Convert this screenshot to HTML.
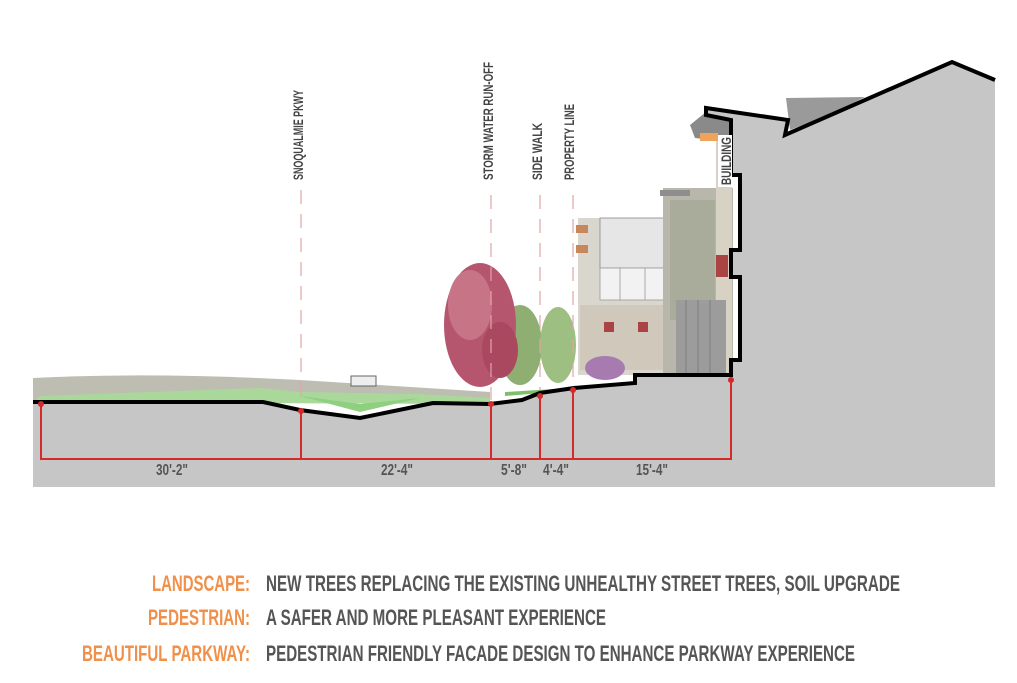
<!DOCTYPE html>
<html><head><meta charset="utf-8"><style>
html,body{margin:0;padding:0;background:#fff;}
svg{display:block;}
text{font-family:"Liberation Sans Narrow","Liberation Sans",sans-serif;font-weight:bold;}
</style></head><body>
<svg width="1017" height="683" viewBox="0 0 1017 683" xmlns="http://www.w3.org/2000/svg">
<!-- landscape strip -->
<path d="M33,378 Q150,372 300,380 L490,392 L490,404 L33,402 Z" fill="#bdbdb2"/>
<path d="M40,396 L260,388 L300,392 L420,394 L490,398 L490,404 L33,402 Z" fill="#a9d89a"/>
<path d="M300,396 L360,412 L420,398 L360,404 Z" fill="#8fcf80"/>
<!-- car -->
<rect x="351" y="376" width="25" height="10" fill="#eee" stroke="#666" stroke-width="1"/>
<!-- building facade -->
<rect x="578" y="218" width="100" height="157" fill="#d9d6ce"/>
<rect x="600" y="218" width="70" height="50" fill="#e6e6e6" stroke="#888" stroke-width="0.8"/>
<rect x="600" y="268" width="70" height="32" fill="#f2f2f2" stroke="#999" stroke-width="0.8"/>
<line x1="620" y1="268" x2="620" y2="300" stroke="#999" stroke-width="0.8"/>
<line x1="645" y1="268" x2="645" y2="300" stroke="#999" stroke-width="0.8"/>
<rect x="580" y="305" width="100" height="65" fill="#cfc8bb"/>
<rect x="576" y="225" width="12" height="8" fill="#c8875a"/>
<rect x="576" y="245" width="12" height="8" fill="#c8875a"/>
<rect x="663" y="188" width="70" height="187" fill="#b9b6ac"/>
<rect x="670" y="200" width="45" height="120" fill="#a9ac9a"/>
<rect x="660" y="190" width="30" height="6" fill="#8e8e8e"/>
<rect x="716" y="140" width="16" height="235" fill="#d8d2c4"/>
<rect x="676" y="300" width="50" height="75" fill="#9c9c9c"/>
<line x1="686" y1="300" x2="686" y2="375" stroke="#777" stroke-width="0.8"/>
<line x1="698" y1="300" x2="698" y2="375" stroke="#777" stroke-width="0.8"/>
<line x1="710" y1="300" x2="710" y2="375" stroke="#777" stroke-width="0.8"/>
<rect x="716" y="255" width="12" height="22" fill="#a44"/>
<rect x="638" y="322" width="10" height="10" fill="#a44"/>
<rect x="604" y="322" width="10" height="10" fill="#a44"/>
<path d="M690,125 L706,112 L740,118 L735,135 L712,140 L695,138 Z" fill="#8a8a8a"/>
<rect x="700" y="133" width="18" height="8" fill="#f0a35a"/>
<path d="M786,98 L865,97 L830,115 L790,130 Z" fill="#9a9a9a"/>
<!-- trees -->
<ellipse cx="520" cy="345" rx="22" ry="40" fill="#8fae72"/>
<ellipse cx="558" cy="345" rx="18" ry="38" fill="#9dbf82"/>
<ellipse cx="480" cy="325" rx="36" ry="62" fill="#b5566e"/>
<ellipse cx="470" cy="305" rx="22" ry="35" fill="#c77486"/>
<ellipse cx="500" cy="350" rx="18" ry="28" fill="#a9485f"/>
<ellipse cx="605" cy="368" rx="20" ry="12" fill="#a77bb0"/>
<path d="M505,392 L570,388 L630,382 L630,386 L505,396Z" fill="#7dbf6a"/>
<!-- gray ground/building section -->
<path d="M33,402 L263,402 L300,410 L360,418 L433,403 L490,404 L522,400 L540,393 L574,388 L635,383 L635,375 L731,375 L731,360 L740,360 L740,277 L731,277 L731,250 L740,250 L740,175 L731,175 L731,120 L706,115 L706,108 L788,120 L785,135 L952,62 L995,80 L995,487 L33,487 Z" fill="#c6c6c6"/>
<path d="M33,402 L263,402 L300,410 L360,418 L433,403 L490,404 L522,400 L540,393 L574,388 L635,383 L635,375 L731,375 L731,360 L740,360 L740,277 L731,277 L731,250 L740,250 L740,175 L731,175 L731,120 L706,115 L706,108 L788,120 L785,135 L952,62 L995,80" fill="none" stroke="#000" stroke-width="4" stroke-linejoin="miter"/>
<!-- dashed lines -->
<g stroke="#e3a3a8" stroke-width="1.2" stroke-dasharray="14,10" fill="none">
<line x1="301" y1="190" x2="301" y2="400"/>
<line x1="491" y1="195" x2="491" y2="400"/>
<line x1="540" y1="195" x2="540" y2="390"/>
<line x1="573" y1="195" x2="573" y2="385"/>
</g>
<!-- dims -->
<g stroke="#d42a2a" stroke-width="2" fill="none">
<polyline points="41,404 41,459 731,459 731,380"/>
<line x1="301" y1="410" x2="301" y2="459"/>
<line x1="491" y1="404" x2="491" y2="459"/>
<line x1="540" y1="395" x2="540" y2="459"/>
<line x1="573" y1="390" x2="573" y2="459"/>
</g>
<g fill="#d42a2a">
<circle cx="41" cy="404" r="3"/><circle cx="301" cy="411" r="3"/><circle cx="491" cy="404" r="3"/>
<circle cx="540" cy="396" r="3"/><circle cx="573" cy="390" r="3"/><circle cx="731" cy="380" r="3"/>
</g>
<g fill="#555" font-size="16" text-anchor="middle">
<text x="172" y="475" textLength="32" lengthAdjust="spacingAndGlyphs">30'-2"</text>
<text x="397" y="475" textLength="32" lengthAdjust="spacingAndGlyphs">22'-4"</text>
<text x="514" y="475" textLength="26" lengthAdjust="spacingAndGlyphs">5'-8"</text>
<text x="556" y="475" textLength="26" lengthAdjust="spacingAndGlyphs">4'-4"</text>
<text x="652" y="475" textLength="32" lengthAdjust="spacingAndGlyphs">15'-4"</text>
</g>
<!-- vertical labels -->
<g fill="#444" font-size="14">
<text transform="translate(303,180) rotate(-90)" textLength="90" lengthAdjust="spacingAndGlyphs">SNOQUALMIE PKWY</text>
<text transform="translate(493,180) rotate(-90)" textLength="118" lengthAdjust="spacingAndGlyphs">STORM WATER RUN-OFF</text>
<text transform="translate(542,180) rotate(-90)" textLength="57" lengthAdjust="spacingAndGlyphs">SIDE WALK</text>
<text transform="translate(574,180) rotate(-90)" textLength="76" lengthAdjust="spacingAndGlyphs">PROPERTY LINE</text>
</g>
<rect x="718" y="135" width="14" height="52" fill="#fff"/>
<text transform="translate(731,185) rotate(-90)" fill="#444" font-size="14" textLength="48" lengthAdjust="spacingAndGlyphs">BUILDING</text>
<!-- bottom text -->
<g font-size="22">
<text x="250" y="591" fill="#f0904a" text-anchor="end" textLength="98" lengthAdjust="spacingAndGlyphs">LANDSCAPE:</text>
<text x="250" y="625" fill="#f0904a" text-anchor="end" textLength="102" lengthAdjust="spacingAndGlyphs">PEDESTRIAN:</text>
<text x="250" y="661" fill="#f0904a" text-anchor="end" textLength="168" lengthAdjust="spacingAndGlyphs">BEAUTIFUL PARKWAY:</text>
<text x="266" y="591" fill="#555" textLength="634" lengthAdjust="spacingAndGlyphs">NEW TREES REPLACING THE EXISTING UNHEALTHY STREET TREES, SOIL UPGRADE</text>
<text x="266" y="625" fill="#555" textLength="340" lengthAdjust="spacingAndGlyphs">A SAFER AND MORE PLEASANT EXPERIENCE</text>
<text x="266" y="661" fill="#555" textLength="589" lengthAdjust="spacingAndGlyphs">PEDESTRIAN FRIENDLY FACADE DESIGN TO ENHANCE PARKWAY EXPERIENCE</text>
</g>
</svg>
</body></html>
